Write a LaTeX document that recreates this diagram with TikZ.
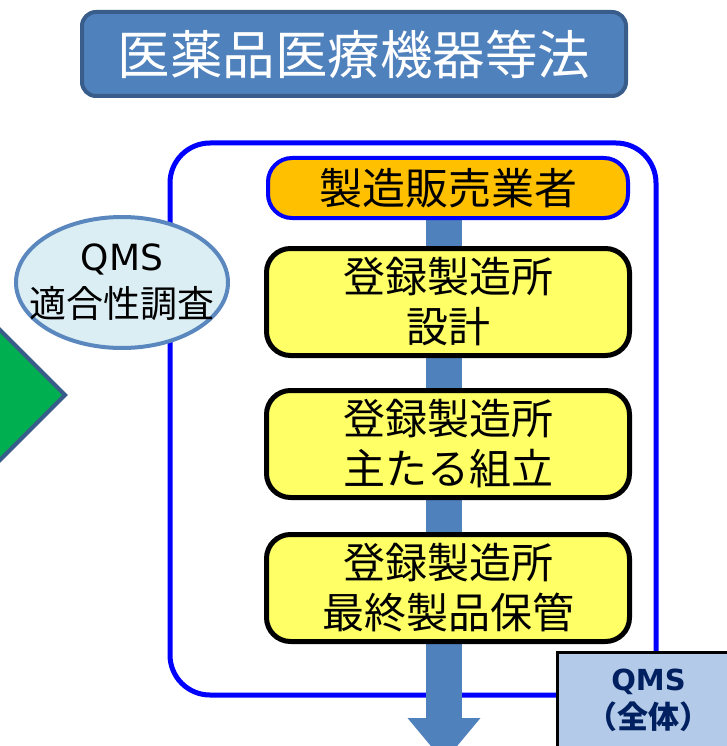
\documentclass[tikz,border=0pt]{standalone}
\usepackage{fontspec}
\newfontfamily\jpfont{Noto Sans CJK JP}
\newfontfamily\latfont{DejaVu Sans}
\usetikzlibrary{shapes.geometric,arrows.meta,backgrounds}
\definecolor{titleblue}{HTML}{4F81BD}
\definecolor{titleedge}{HTML}{385D8A}
\definecolor{framblue}{HTML}{0000FF}
\definecolor{makerorange}{HTML}{FFC000}
\definecolor{siteyellow}{HTML}{FFFF66}
\definecolor{checkfill}{HTML}{DBEEF4}
\definecolor{checkedge}{HTML}{5B87BF}
\definecolor{greenarrow}{HTML}{00B050}
\definecolor{qmsfill}{HTML}{B4CAE9}
\definecolor{qmsnavy}{HTML}{002060}

\begin{document}
\begin{tikzpicture}[x=1pt, y=-1pt,
    sitebox/.style={draw=black, line width=5pt, fill=siteyellow, rounded corners=24pt,
        minimum width=363pt, minimum height=107pt, inner sep=0pt, align=center,
        font=\jpfont\fontsize{42}{50}\selectfont},
    flow/.style={line width=36pt, draw=titleblue, -{Triangle[width=70pt,length=44pt]}}]
    \useasboundingbox (0,0) rectangle (726,746);
    % title
    \node (law) at (354,54) [draw=titleedge, line width=4pt, fill=titleblue, rounded corners=14pt,
        minimum width=544pt, minimum height=84pt, inner sep=0pt, text=white,
        font=\jpfont\fontsize{52.5}{52}\selectfont] {医薬品医療機器等法};
    % green arrow tip on the left
    \draw[fill=greenarrow, draw=titleedge, line width=4pt]
        (65,395) -- (-65,265) -- (-195,395) -- (-65,525) -- cycle;
    \coordinate (tip) at (444,762);
    \node (maker) at (448,188) [draw=framblue, line width=4pt, fill=makerorange, rounded corners=24pt,
        minimum width=360pt, minimum height=60pt, inner sep=0pt,
        font=\jpfont\fontsize{43}{43}\selectfont] {製造販売業者};
    \node (design) at (448,302) [sitebox] {登録製造所\\設計};
    \node (assembly) at (448,444) [sitebox] {登録製造所\\主たる組立};
    \node (storage) at (448,588) [sitebox] {登録製造所\\最終製品保管};
    \begin{pgfonlayer}{background}
        \draw[framblue, line width=5pt, rounded corners=40pt] (170,143) rectangle (656,695);
        \draw[flow] (maker.south -| tip) -- (tip);
    \end{pgfonlayer}
    \node (check) at (122,282.5) [ellipse, draw=checkedge, line width=4pt, fill=checkfill,
        minimum width=212pt, minimum height=131pt, inner xsep=-20pt, inner ysep=-6pt, align=center,
        font=\fontsize{37}{47}\selectfont]
        {{\latfont\fontsize{36}{47}\selectfont QMS}\\{\jpfont 適合性調査}};
    \node (whole) at (648.5,700) [draw=black, line width=3pt, fill=qmsfill,
        minimum width=183pt, minimum height=96pt, inner sep=0pt, align=center, text=qmsnavy,
        font=\fontsize{31}{38}\selectfont]
        {{\latfont\bfseries\fontsize{29}{38}\selectfont QMS}\\{\jpfont\bfseries （全体）}};
\end{tikzpicture}
\end{document}
